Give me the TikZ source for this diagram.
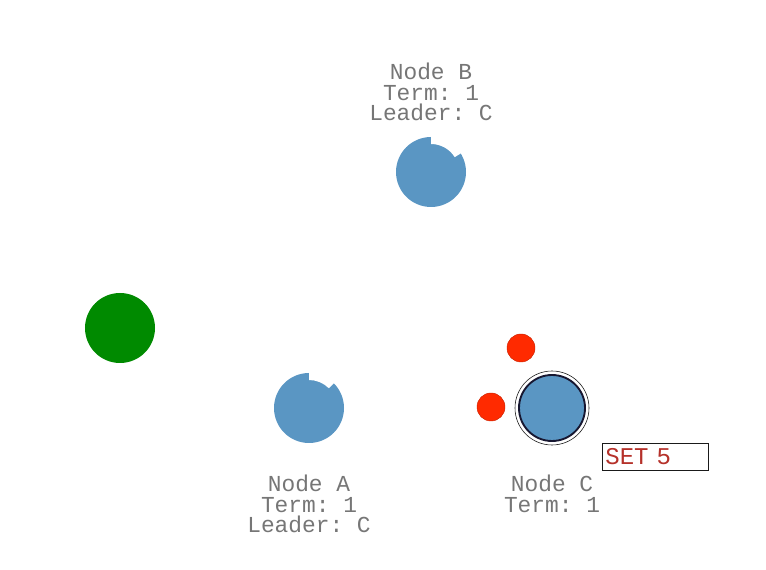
\documentclass[tikz,border=0pt]{standalone}
\usepackage{fontspec}
\setmonofont{Liberation Mono}
\usetikzlibrary{positioning,calc}
\definecolor{pblue}{HTML}{5A96C3}
\definecolor{pgreen}{HTML}{008A00}
\definecolor{pred}{HTML}{FF2A00}
\definecolor{setred}{HTML}{B5312A}
\definecolor{ink}{HTML}{1A1A1A}
\newcommand{\notch}[2]{% node, start angle
  \fill[white] ($(#1)+(#2:28)$) arc[start angle=#2, end angle=90, radius=28]
    -- ($(#1)+(90:37)$) arc[start angle=90, end angle=#2, radius=37] -- cycle;}

\begin{document}
\begin{tikzpicture}[
  x=0.03cm, y=0.03cm,
  font=\ttfamily\fontsize{19.5}{17.5}\selectfont,
  every node/.style={align=center},
  peer/.style={circle, fill=pblue, minimum size=2.1cm, inner sep=0pt},
  lead/.style={peer, draw=ink!90!blue, line width=1.6pt, minimum size=1.98cm},
  vote/.style={circle, fill=pred, draw=pred!80!black, line width=0.4pt,
               minimum size=0.84cm, inner sep=0pt},
  client/.style={circle, fill=pgreen, minimum size=2.1cm, inner sep=0pt},
  lbl/.style={text=ink!60, inner sep=0pt},
  cmd/.style={draw=ink, line width=0.6pt, text=setred, anchor=west,
              font=\ttfamily\fontsize{20.5}{20}\selectfont,
              minimum width=3.18cm, minimum height=0.81cm, text width=3cm,
              align=left, inner sep=2pt},
]
\useasboundingbox (0,0) rectangle (766,570);
% peers
\node[peer] (nb) at (431,398) {};
\node[peer] (na) at (309,162) {};
\node[lead] (nc) at (552,162) {};
\draw[ink, line width=0.5pt] (nc) circle[radius=37];
\notch{nb}{32}
\notch{na}{45}
% client and votes
\node[client] (cl) at (120,242) {};
\node[vote] (v1) at (521,222) {};
\node[vote] (v2) at (491,163) {};
% labels
\node[lbl] (lb) at (431,478) {Node B\\Term: 1\\Leader: C};
\node[lbl] (la) at (309,66) {Node A\\Term: 1\\Leader: C};
\node[lbl] (lc) at (552,76) {Node C\\Term: 1};
% command
\node[cmd] (set) at (602,113.5) {SET 5};
\end{tikzpicture}
\end{document}
